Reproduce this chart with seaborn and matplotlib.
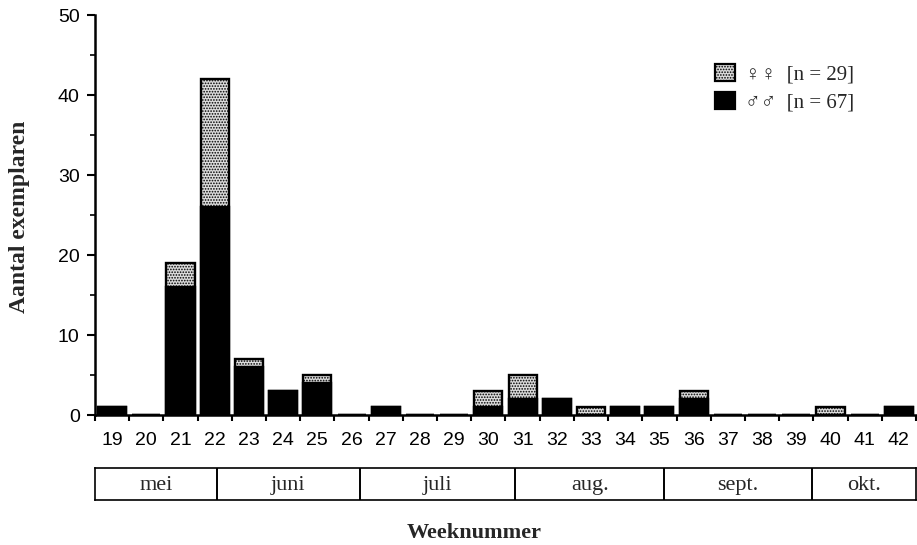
import numpy as np
import pandas as pd
import matplotlib
matplotlib.use("Agg")
import matplotlib.pyplot as plt
import seaborn as sns
from matplotlib.patches import Patch

# ---- data ----
weeks = list(range(19, 43))
males = [1, 0, 16, 26, 6, 3, 4, 0, 1, 0, 0, 1, 2, 2, 0, 1, 1, 2, 0, 0, 0, 0, 0, 1]
females = [0, 0, 3, 16, 1, 0, 1, 0, 0, 0, 0, 2, 3, 0, 1, 0, 0, 1, 0, 0, 0, 1, 0, 0]
months = ["mei", "juni", "juli", "aug.", "sept.", "okt."]
month_edges = [18.5, 22.06, 26.25, 30.78, 35.14, 39.46, 42.5]
legend_labels = ["\u2640\u2640  [n = 29]", "\u2642\u2642  [n = 67]"]
ylabel = "Aantal exemplaren"
xlabel = "Weeknummer"

df = pd.DataFrame({"week": weeks, "male": males, "female": females})
df["total"] = df["male"] + df["female"]

sns.set_style("ticks")
plt.rcParams["font.family"] = ["Liberation Sans", "DejaVu Sans"]
plt.rcParams["hatch.color"] = "#555555"
plt.rcParams["hatch.linewidth"] = 0.8

serif = ["Liberation Serif", "DejaVu Serif"]

fig = plt.figure(figsize=(9.17, 5.45), dpi=100)
W, H = 917, 545
ax = fig.add_axes([95 / W, 1 - 415 / H, (916 - 95) / W, (415 - 15) / H])

BAR_W = 0.82
sns.barplot(data=df, x="week", y="total", native_scale=True, errorbar=None,
            width=BAR_W, color="#dcdcdc", edgecolor="black", linewidth=1.7,
            hatch="......", ax=ax)
sns.barplot(data=df, x="week", y="male", native_scale=True, errorbar=None,
            width=BAR_W, color="black", edgecolor="black", linewidth=1.7, ax=ax)

ax.set_xlim(18.5, 42.5)
ax.set_ylim(0, 50)
ax.set_xlabel("")
ax.set_ylabel("")
sns.despine(ax=ax)
for s in ("left", "bottom"):
    ax.spines[s].set_linewidth(1.8)
    ax.spines[s].set_color("black")

ax.set_xticks(weeks)
ax.set_xticklabels([str(w) for w in weeks])
ax.set_xticks(np.arange(18.5, 43, 1.0), minor=True)
ax.tick_params(axis="x", which="major", length=0, pad=12, labelsize=14, colors="black")
ax.tick_params(axis="x", which="minor", length=4, width=1.5, direction="out", color="black")
ax.set_yticks(np.arange(0, 51, 10))
ax.set_yticks(np.arange(5, 50, 10), minor=True)
ax.tick_params(axis="y", which="major", length=6, width=1.5, pad=5, labelsize=14, colors="black")
ax.tick_params(axis="y", which="minor", length=3.5, width=1.2, color="black")

# month box
axm = fig.add_axes([95 / W, 1 - 500 / H, (916 - 95) / W, (500 - 468) / H])
axm.set_xlim(18.5, 42.5)
axm.set_ylim(0, 1)
axm.set_xticks([])
axm.set_yticks([])
for s in axm.spines.values():
    s.set_linewidth(1.2)
    s.set_color("black")
    s.set_visible(True)
for e in month_edges[1:-1]:
    axm.axvline(e, color="black", linewidth=1.4)
for i, m in enumerate(months):
    cx = (month_edges[i] + month_edges[i + 1]) / 2
    axm.text(cx, 0.45, m, ha="center", va="center", fontsize=16, family=serif)

# legend
handles = [
    Patch(facecolor="#dcdcdc", edgecolor="black", hatch="......", linewidth=1.6),
    Patch(facecolor="black", edgecolor="black", linewidth=1.6),
]
ax.legend(handles=handles, labels=legend_labels, loc="upper left",
          bbox_to_anchor=(705 / W, 1 - 54 / H), bbox_transform=fig.transFigure,
          frameon=False, borderpad=0, handlelength=0.95, handleheight=0.85,
          handletextpad=0.45, labelspacing=0.35,
          prop={"family": serif, "size": 15})

fig.text(20 / W, 1 - 217 / H, ylabel, rotation=90, ha="center", va="center",
         fontsize=17, fontweight="bold", family=serif)
fig.text(474 / W, 1 - 533 / H, xlabel, ha="center", va="center",
         fontsize=16, fontweight="bold", family=serif)

fig.savefig("out.png", dpi=100)
